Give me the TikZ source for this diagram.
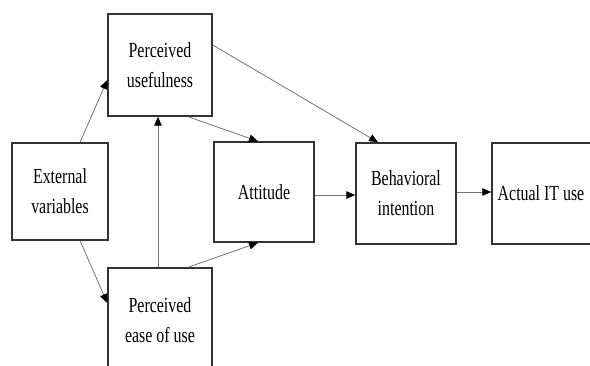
\documentclass[tikz,border=0pt]{standalone}
\usepackage{fontspec}
\setmainfont{Liberation Serif}[FakeStretch=0.74]
\usetikzlibrary{arrows.meta}

\begin{document}
\begin{tikzpicture}[x=1pt, y=-1pt,
  every node/.style = {shape=rectangle, draw=black!80, line width=1.4pt, align=center,
    inner sep=0pt, font=\fontsize{21.5}{30}\selectfont},
  link/.style = {draw=black!55, line width=0.8pt, -{Triangle[black, length=9pt, width=7.5pt]}}]
  \clip (0,0) rectangle (590,366);
  \node [minimum width=104pt, minimum height=102pt] (pu)  at (160,65)    {Perceived\\usefulness};
  \node [minimum width=96pt,  minimum height=97pt]  (ext) at (60,191.5)  {External\\variables};
  \node [minimum width=104pt, minimum height=104pt] (peu) at (160,320)   {Perceived\\ease of use};
  \node [minimum width=100pt, minimum height=100pt] (att) at (264,192)   {Attitude};
  \node [minimum width=100pt, minimum height=101pt] (bi)  at (406,193.5) {Behavioral\\intention};
  \node [minimum width=110pt, minimum height=101pt] (act) at (547,193.5) {\hspace*{-12pt}Actual IT use};
  \draw [link] ([xshift=20pt]ext.north) -- ([yshift=-15pt]pu.west);
  \draw [link] ([xshift=20pt]ext.south) -- ([yshift=17pt]peu.west);
  \draw [link] ([xshift=-2pt]peu.north) -- ([xshift=-2pt]pu.south);
  \draw [link] ([xshift=28pt]pu.south) -- ([xshift=-6pt]att.north);
  \draw [link] ([xshift=28pt]peu.north) -- ([xshift=-6pt]att.south);
  \draw [link] ([yshift=20pt]pu.east) -- ([xshift=-28pt]bi.north);
  \draw [link] ([yshift=-3pt]att.east) -- ([yshift=-1.5pt]bi.west);
  \draw [link] ([yshift=1.5pt]bi.east) -- ([yshift=1.5pt]act.west);
\end{tikzpicture}
\end{document}
